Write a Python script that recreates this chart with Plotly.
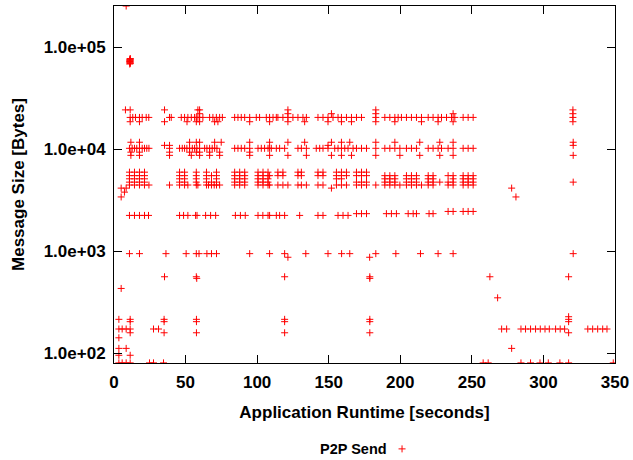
import plotly.graph_objects as go

# ---- data: message sizes (bytes) and the send times (seconds) at each size ----
size_top = 254000
t_top = [8.5]

burst_times = [11.0, 11.4, 11.0, 11.4, 11.0, 11.4, 11.0, 11.4, 11.0, 11.4]
burst_sizes = [68500, 69500, 70500, 71500, 72500, 73500, 74500, 75500, 76500, 77500]

size_24k = 24300
t_24k = [8.0, 11.3, 35.3, 58.6, 59.8, 121.5, 182.9, 320.6]
size_22k = 22300
t_22k = [59.8, 121.5, 151.9, 182.9, 236.9, 320.6]
size_20k = 20500
t_20k = [11.3, 13.1, 15.0, 17.8, 19.7, 22.5, 24.3, 38.8, 40.0,
         47.0, 49.3, 51.6, 54.0, 56.3, 57.5, 58.6, 59.8, 62.1, 66.8, 69.1, 71.5, 73.8, 75.7,
         84.3, 86.6, 88.9, 91.3, 94.8, 99.4, 101.7, 106.4, 108.7, 111.1, 113.4,
         114.5, 118.0, 121.5, 125.0, 128.5, 132.0, 134.4,
         142.5, 146.0, 149.5, 153.0, 156.5, 158.9, 162.4, 165.9, 169.4, 172.9, 182.9,
         189.2, 192.7, 196.2, 198.5, 200.8, 204.3, 207.8, 211.3, 214.8,
         219.5, 222.9, 226.4, 228.8, 232.3, 235.8, 238.1, 243.9, 247.4, 250.9, 320.6]
size_18k = 18600
t_18k = [11.3, 17.8, 35.3, 51.0, 57.5, 59.8, 70.3, 72.6, 94.8, 108.7, 121.5, 133.2,
         149.5, 158.9, 165.9, 182.9, 196.2, 214.8, 226.4, 236.9, 320.6]

size_11k7 = 11700
t_11k7 = [11.8, 17.8, 52.8, 57.5, 59.8, 70.3, 74.9, 94.8, 108.7, 121.5, 133.2, 151.9,
          158.9, 164.7, 182.9, 196.2, 213.6, 227.6, 236.9, 320.8]
size_10k9 = 10900
t_10k9 = [35.3, 38.8, 149.5, 320.8]
size_10k = 10200
t_10k = [10.8, 12.7, 14.3, 15.9, 17.8, 19.7, 21.3, 22.9, 24.4, 38.8,
         45.8, 47.7, 49.3, 50.9, 52.8, 54.7, 56.3, 57.9, 59.8, 63.3, 64.9, 66.8, 68.6, 70.3, 71.9,
         84.3, 86.6, 88.9, 91.3, 94.8, 100.6, 102.9, 105.2, 107.6, 108.7, 109.9,
         113.4, 115.7, 119.2, 128.5, 130.9, 134.4,
         141.3, 143.7, 146.0, 149.5, 154.2, 156.5, 158.9, 161.2, 163.5, 167.0, 169.4, 172.9, 176.4,
         182.9, 189.2, 192.7, 196.2, 199.7, 204.3, 207.8, 211.3,
         219.5, 222.9, 226.4, 228.8, 233.4, 236.9, 243.9, 247.4, 250.9]
size_9k3 = 9350
t_9k3 = [11.8, 17.8, 38.8, 52.8, 57.5, 59.8, 66.8, 73.8, 94.8]
size_8k7 = 8700
t_8k7 = [11.8, 17.8, 38.8, 54.0, 59.8, 66.8, 73.8, 94.8, 108.7, 121.5, 134.4, 151.9,
         158.9, 165.9, 182.9, 199.7, 213.6, 227.6, 236.9, 320.8]

size_5k9 = 5950
t_5k9 = [10.8, 14.3, 17.8, 21.3, 45.8, 49.3, 57.5, 64.6, 71.6, 84.3, 87.8, 91.3,
         100.6, 104.1, 107.6, 114.5, 118.0, 128.5, 130.9, 142.5, 146.0,
         155.4, 158.9, 162.4, 169.4, 172.9, 176.4]
size_5k5 = 5500
t_5k5 = [10.8, 14.3, 17.8, 21.3, 45.8, 49.3, 57.5, 64.6, 68.1, 71.6, 84.3, 87.8, 91.3,
         100.6, 104.1, 107.6, 108.7, 114.5, 118.0, 128.5, 130.9, 142.5, 146.0,
         155.4, 158.9, 162.4, 169.4, 172.9, 176.4, 189.2, 192.7, 196.2,
         204.3, 207.8, 211.3, 219.5, 222.9, 233.4, 236.9, 243.9, 247.4, 250.9]
size_5k1 = 5120
t_5k1 = [10.8, 14.3, 17.8, 21.3, 45.8, 49.3, 57.5, 64.6, 71.6, 84.3, 87.8, 91.3,
         100.6, 104.1, 107.6, 155.4, 158.9, 189.2, 192.7, 196.2, 204.3, 207.8, 211.3,
         219.5, 222.9, 236.9, 243.9, 247.4, 250.9]
size_4k75 = 4750
t_4k75 = [10.8, 14.3, 17.8, 21.3, 45.8, 49.3, 57.5, 64.6, 68.1, 71.6, 84.3, 87.8, 91.3,
          100.6, 104.1, 107.6, 169.4, 172.9, 176.4, 189.2, 192.7, 196.2,
          204.3, 207.8, 211.3, 219.5, 222.9, 227.6, 233.4, 236.9, 243.9, 247.4, 250.9, 320.8]
size_4k45 = 4450
t_4k45 = [10.8, 14.3, 17.8, 21.3, 24.4, 38.8, 45.8, 49.3, 51.6, 57.5, 58.6,
          64.6, 66.0, 68.1, 70.0, 71.6, 73.8, 84.3, 87.8, 91.3, 100.6, 104.1, 107.6, 108.7,
          114.5, 118.0, 121.5, 128.5, 130.9, 134.4, 142.5, 146.0, 155.4, 158.9, 162.4,
          169.4, 172.9, 176.4, 182.9, 189.2, 192.7, 196.2, 199.7, 204.3, 207.8, 211.3, 214.8,
          219.5, 222.9, 233.4, 236.9, 243.9, 247.4, 250.9]
size_4k15 = 4150
t_4k15 = [5.0, 8.5, 151.9, 277.8]
size_3k8 = 3790
t_3k8 = [7.3]
size_3k4 = 3400
t_3k4 = [5.0, 280.8]

size_2k24 = 2240
t_2k24 = [10.8, 14.3, 17.8, 21.3, 24.1, 45.8, 48.6, 51.6, 57.0, 58.0, 64.0, 67.5, 71.0,
          84.8, 88.3, 91.7, 100.6, 104.0, 107.6, 108.7, 113.4, 115.7, 119.2, 129.7,
          142.5, 146.0, 156.5, 160.0, 163.5]
size_2k33 = 2330
t_2k33 = [169.4, 172.9, 176.4, 190.3, 193.8, 197.3, 205.5, 209.0, 211.3, 220.1, 222.9]
size_2k45 = 2450
t_2k45 = [233.4, 236.9, 243.9, 247.4, 250.9]

size_944 = 944
t_944 = [10.8, 17.8, 36.3, 50.4, 57.5, 59.4, 64.9, 68.1, 71.6, 94.8, 108.7, 119.2, 134.0,
         149.5, 159.0, 164.7, 182.9, 196.9, 214.1, 226.4, 236.9, 320.8]
size_870 = 870
t_870 = [121.5, 178.6]
size_560 = 560
t_560 = [35.3, 57.5, 119.2, 178.7, 262.6, 317.6]
size_540 = 540
t_540 = [57.8, 178.7]
size_430 = 430
t_430 = [5.0]
size_348 = 348
t_348 = [268.0]
size_227 = 227
t_227 = [317.6]
size_214 = 214
t_214 = [3.4, 11.3, 35.0, 57.6, 119.2, 178.7, 317.6]
size_203 = 203
t_203 = [11.3, 35.0, 57.6, 119.2, 178.7, 317.6]
size_172 = 172
t_172 = [3.4, 5.7, 8.5, 11.3, 27.6, 31.1, 270.8, 274.3, 284.3, 287.5, 291.0, 294.5,
         297.8, 301.1, 304.1, 308.5, 311.7, 314.8, 331.0, 334.4, 337.9, 341.4, 344.4]
size_158 = 158
t_158 = [11.3, 35.0, 57.6, 119.2, 178.7, 317.6]
size_141 = 141
t_141 = [3.4]
size_111 = 111
t_111 = [3.4, 8.5, 277.8]
size_95 = 95
t_95 = [3.4, 11.3]
size_80 = 80
t_80 = [3.4, 5.7, 8.5, 11.3, 24.8, 27.6, 34.6, 257.9, 261.4, 284.3, 291.0, 297.6,
        303.4, 311.5, 317.6, 348.8]

x_ticks = [0, 50, 100, 150, 200, 250, 300, 350]
y_ticks = [100, 1000, 10000, 100000]
y_tick_text = ["1.0e+02", "1.0e+03", "1.0e+04", "1.0e+05"]
series_name = "P2P Send"

rows = [
    (size_top, t_top), (size_24k, t_24k), (size_22k, t_22k), (size_20k, t_20k),
    (size_18k, t_18k), (size_11k7, t_11k7), (size_10k9, t_10k9), (size_10k, t_10k),
    (size_9k3, t_9k3), (size_8k7, t_8k7), (size_5k9, t_5k9), (size_5k5, t_5k5),
    (size_5k1, t_5k1), (size_4k75, t_4k75), (size_4k45, t_4k45), (size_4k15, t_4k15),
    (size_3k8, t_3k8), (size_3k4, t_3k4), (size_2k24, t_2k24), (size_2k33, t_2k33),
    (size_2k45, t_2k45), (size_944, t_944), (size_870, t_870), (size_560, t_560),
    (size_540, t_540), (size_430, t_430), (size_348, t_348), (size_227, t_227),
    (size_214, t_214), (size_203, t_203), (size_172, t_172), (size_158, t_158),
    (size_141, t_141), (size_111, t_111), (size_95, t_95), (size_80, t_80),
]

xs = list(burst_times)
ys = list(burst_sizes)
for s, ts in rows:
    xs.extend(ts)
    ys.extend([s] * len(ts))

FONT = "Liberation Sans, Arial, sans-serif"
RED = "#ff0000"

fig = go.Figure()
fig.add_trace(go.Scatter(
    x=xs, y=ys, mode="markers", name="",
    marker=dict(symbol="cross-thin", size=5, color=RED,
                line=dict(color=RED, width=1)),
    showlegend=True,
))

axis_common = dict(
    showline=True, linecolor="#000000", linewidth=1, mirror="ticks",
    ticks="inside", ticklen=8, tickwidth=1, tickcolor="#000000",
    showgrid=False, zeroline=False,
    tickfont=dict(family=FONT, size=17, color="#000000", weight="bold"),
)

fig.update_layout(
    width=633, height=460,
    margin=dict(l=114, r=18, t=6, b=97, autoexpand=False),
    paper_bgcolor="white", plot_bgcolor="white",
    xaxis=dict(range=[0, 350], tickvals=x_ticks,
               title=dict(text="Application Runtime [seconds]", standoff=14,
                          font=dict(family=FONT, size=17, color="#000000", weight="bold")),
               ticklabelstandoff=4,
               **axis_common),
    yaxis=dict(type="log", range=[1.902, 5.405], tickvals=y_ticks, ticktext=y_tick_text,
               title=dict(text="Message Size [Bytes]", standoff=14,
                          font=dict(family=FONT, size=17, color="#000000", weight="bold")),
               ticklabelstandoff=4,
               **axis_common),
    legend=dict(orientation="h", xref="paper", x=0.535, xanchor="left",
                yref="container", y=0.024, yanchor="middle",
                font=dict(family=FONT, size=14.5, color="#000000"),
                bgcolor="rgba(0,0,0,0)", itemwidth=30),
    annotations=[dict(text=series_name, xref="paper", yref="paper",
                      x=0.478, y=-0.24, xanchor="center", yanchor="middle",
                      showarrow=False,
                      font=dict(family=FONT, size=14.5, color="#000000", weight="bold"))],
    showlegend=True,
)

fig.write_html("out.html")
